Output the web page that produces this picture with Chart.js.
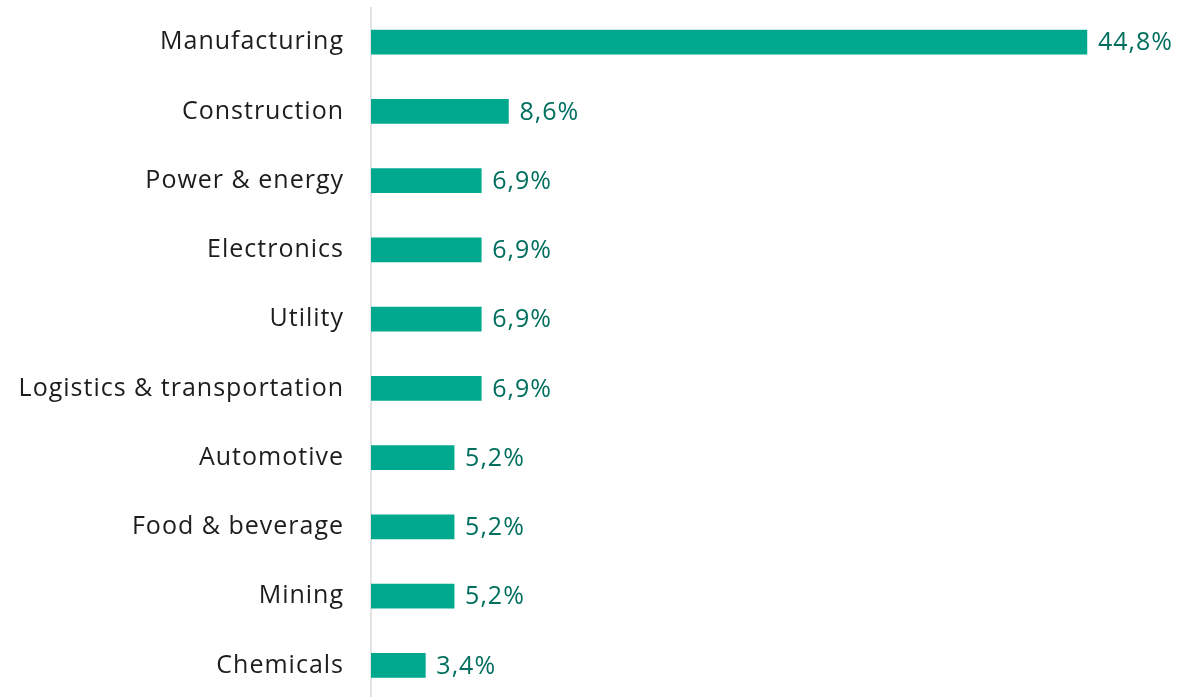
<!DOCTYPE html>
<html>
<head>
<meta charset="utf-8">
<script src="https://cdn.jsdelivr.net/npm/chart.js@4"></script>
<style>
  html, body { margin: 0; padding: 0; background: #fff; overflow: hidden; }
  #box { width: 1192px; height: 700px; position: relative; }
</style>
</head>
<body>
<div id="box"><canvas id="barChart"></canvas></div>
<script>
const industries = [
  "Manufacturing", "Construction", "Power & energy", "Electronics", "Utility",
  "Logistics & transportation", "Automotive", "Food & beverage", "Mining", "Chemicals"
];
const shares = [44.8, 8.6, 6.9, 6.9, 6.9, 6.9, 5.2, 5.2, 5.2, 3.4];

const barColor = "#00a88e";
const valueColor = "#006f5e";
const labelColor = "#1d1d1b";
const fontFamily = "'Open Sans', 'Noto Sans', sans-serif";

// a touch of tracking, the original face is wider than Open Sans
const spacing = {
  id: "spacing",
  beforeDraw(chart) { chart.ctx.letterSpacing = "1px"; }
};

// writes "44,8%" style labels right after every bar
const valueLabels = {
  id: "valueLabels",
  afterDatasetsDraw(chart) {
    const ctx = chart.ctx;
    const meta = chart.getDatasetMeta(0);
    ctx.save();
    ctx.font = "400 25px " + fontFamily;
    ctx.fillStyle = valueColor;
    ctx.textAlign = "left";
    ctx.textBaseline = "middle";
    meta.data.forEach((bar, i) => {
      const txt = shares[i].toFixed(1).replace(".", ",") + "%";
      ctx.fillText(txt, bar.x + 11, bar.y + 1);
    });
    ctx.restore();
  }
};

const ctx = document.getElementById("barChart").getContext("2d");
new Chart(ctx, {
  type: "bar",
  data: {
    labels: industries,
    datasets: [{
      data: shares,
      backgroundColor: barColor,
      borderWidth: 0,
      barThickness: 24
    }]
  },
  plugins: [spacing, valueLabels],
  options: {
    indexAxis: "y",
    responsive: true,
    maintainAspectRatio: false,
    animation: false,
    layout: { padding: { top: 7.5, right: 22, bottom: 0, left: 0 } },
    plugins: {
      legend: { display: false },
      tooltip: { enabled: false }
    },
    scales: {
      x: {
        display: false,
        min: 0,
        max: 50
      },
      y: {
        afterFit(scale) {
          scale.width = 371;
          scale.paddingTop = 0;
          scale.paddingBottom = 0;
        },
        grid: { display: true, color: "transparent", drawTicks: false },
        border: { display: true, color: "#e3e3e3", width: 2 },
        ticks: {
          color: labelColor,
          padding: 27,
          font: { family: fontFamily, size: 25, weight: "400" }
        }
      }
    }
  }
});
</script>
</body>
</html>
